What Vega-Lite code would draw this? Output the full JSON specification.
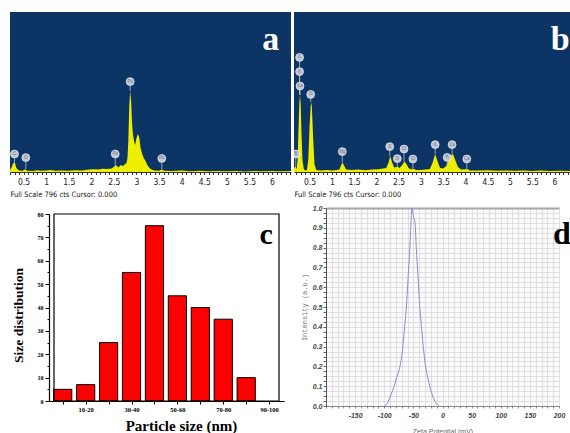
{
  "$schema": "https://vega.github.io/schema/vega-lite/v6.json",
  "background": "white",
  "padding": {"left": 9, "top": 12, "right": 0, "bottom": 0},
  "config": {"view": {"stroke": null}},
  "datasets": {
    "specA": [{"e":0.2,"c":10},{"e":0.24,"c":25},{"e":0.27,"c":45},{"e":0.31,"c":45},{"e":0.34,"c":20},{"e":0.4,"c":8},{"e":0.48,"c":6},{"e":0.53,"c":14},{"e":0.58,"c":6},{"e":0.7,"c":5},{"e":0.8,"c":9},{"e":0.9,"c":6},{"e":1.0,"c":8},{"e":1.1,"c":10},{"e":1.2,"c":6},{"e":1.35,"c":8},{"e":1.5,"c":6},{"e":1.65,"c":9},{"e":1.8,"c":7},{"e":1.95,"c":12},{"e":2.05,"c":14},{"e":2.15,"c":12},{"e":2.25,"c":16},{"e":2.35,"c":15},{"e":2.45,"c":18},{"e":2.52,"c":30},{"e":2.56,"c":32},{"e":2.6,"c":22},{"e":2.65,"c":35},{"e":2.7,"c":30},{"e":2.75,"c":40},{"e":2.78,"c":45},{"e":2.8,"c":70},{"e":2.82,"c":160},{"e":2.84,"c":330},{"e":2.86,"c":405},{"e":2.88,"c":360},{"e":2.9,"c":250},{"e":2.92,"c":190},{"e":2.95,"c":150},{"e":2.97,"c":135},{"e":3.0,"c":170},{"e":3.03,"c":190},{"e":3.06,"c":175},{"e":3.09,"c":120},{"e":3.12,"c":95},{"e":3.16,"c":70},{"e":3.2,"c":55},{"e":3.24,"c":35},{"e":3.28,"c":22},{"e":3.33,"c":12},{"e":3.4,"c":8},{"e":3.5,"c":6},{"e":3.56,"c":12},{"e":3.62,"c":6},{"e":3.8,"c":5},{"e":4.0,"c":7},{"e":4.2,"c":4},{"e":4.4,"c":6},{"e":4.6,"c":4},{"e":4.8,"c":5},{"e":5.0,"c":4},{"e":5.2,"c":5},{"e":5.4,"c":3},{"e":5.6,"c":5},{"e":5.8,"c":4},{"e":6.0,"c":5},{"e":6.2,"c":4},{"e":6.42,"c":5}],
    "mkA": [{"e":0.3,"y":90,"y2":45,"el":"C"},{"e":0.55,"y":72,"y2":14,"el":"O"},{"e":2.53,"y":90,"y2":30,"el":"Pd"},{"e":2.86,"y":452,"y2":405,"el":"Pd"},{"e":3.56,"y":68,"y2":12,"el":"Pd"}],
    "specB": [{"e":0.15,"c":20},{"e":0.18,"c":30},{"e":0.21,"c":15},{"e":0.23,"c":60},{"e":0.25,"c":200},{"e":0.27,"c":350},{"e":0.285,"c":385},{"e":0.3,"c":340},{"e":0.32,"c":180},{"e":0.34,"c":60},{"e":0.37,"c":15},{"e":0.4,"c":8},{"e":0.44,"c":10},{"e":0.47,"c":60},{"e":0.5,"c":230},{"e":0.53,"c":350},{"e":0.55,"c":330},{"e":0.58,"c":170},{"e":0.61,"c":40},{"e":0.65,"c":10},{"e":0.75,"c":8},{"e":0.9,"c":10},{"e":1.0,"c":7},{"e":1.1,"c":10},{"e":1.17,"c":12},{"e":1.21,"c":35},{"e":1.24,"c":47},{"e":1.28,"c":30},{"e":1.32,"c":12},{"e":1.45,"c":10},{"e":1.6,"c":12},{"e":1.75,"c":9},{"e":1.9,"c":12},{"e":2.05,"c":14},{"e":2.15,"c":18},{"e":2.22,"c":20},{"e":2.27,"c":45},{"e":2.31,"c":80},{"e":2.35,"c":50},{"e":2.4,"c":22},{"e":2.45,"c":25},{"e":2.48,"c":28},{"e":2.52,"c":20},{"e":2.58,"c":35},{"e":2.63,"c":52},{"e":2.68,"c":38},{"e":2.73,"c":18},{"e":2.8,"c":14},{"e":2.84,"c":15},{"e":2.9,"c":10},{"e":3.0,"c":10},{"e":3.1,"c":12},{"e":3.2,"c":15},{"e":3.26,"c":45},{"e":3.32,"c":90},{"e":3.37,"c":55},{"e":3.43,"c":20},{"e":3.5,"c":18},{"e":3.57,"c":30},{"e":3.62,"c":60},{"e":3.67,"c":82},{"e":3.72,"c":90},{"e":3.77,"c":60},{"e":3.83,"c":25},{"e":3.9,"c":12},{"e":4.0,"c":14},{"e":4.04,"c":15},{"e":4.1,"c":8},{"e":4.3,"c":7},{"e":4.5,"c":9},{"e":4.7,"c":6},{"e":4.9,"c":8},{"e":5.1,"c":6},{"e":5.3,"c":7},{"e":5.5,"c":5},{"e":5.7,"c":7},{"e":5.9,"c":5},{"e":6.1,"c":6},{"e":6.37,"c":5}],
    "mkB": [{"e":0.19,"y":90,"y2":30,"el":"B"},{"e":0.275,"y":573,"y2":385,"el":"C"},{"e":0.275,"y":502,"y2":385,"el":"K"},{"e":0.285,"y":430,"y2":385,"el":"Ca"},{"e":0.525,"y":388,"y2":350,"el":"O"},{"e":1.235,"y":102,"y2":47,"el":"Mg"},{"e":2.3,"y":127,"y2":80,"el":"S"},{"e":2.47,"y":67,"y2":28,"el":"S"},{"e":2.62,"y":115,"y2":52,"el":"Cl"},{"e":2.82,"y":65,"y2":15,"el":"Cl"},{"e":3.32,"y":137,"y2":90,"el":"K"},{"e":3.59,"y":73,"y2":30,"el":"K"},{"e":3.7,"y":137,"y2":90,"el":"Ca"},{"e":4.03,"y":65,"y2":15,"el":"Ca"}],
    "hist": [{"size":"0-10","mid":5,"count":5},{"size":"10-20","mid":15,"count":7},{"size":"20-30","mid":25,"count":25},{"size":"30-40","mid":35,"count":55},{"size":"40-50","mid":45,"count":75},{"size":"50-60","mid":55,"count":45},{"size":"60-70","mid":65,"count":40},{"size":"70-80","mid":75,"count":35},{"size":"80-90","mid":85,"count":10}],
    "frameC": [{"a":1.2,"b":99.3,"c0":0,"c1":80}],
    "zeta": [{"z":-100,"i":0},{"z":-97,"i":0.005},{"z":-92,"i":0.03},{"z":-88,"i":0.06},{"z":-83,"i":0.1},{"z":-78,"i":0.15},{"z":-73,"i":0.2},{"z":-68,"i":0.3},{"z":-65,"i":0.4},{"z":-62,"i":0.5},{"z":-59,"i":0.65},{"z":-56,"i":0.8},{"z":-54,"i":0.93},{"z":-53,"i":1.0},{"z":-50,"i":0.96},{"z":-47,"i":0.92},{"z":-45,"i":0.8},{"z":-42,"i":0.65},{"z":-39,"i":0.5},{"z":-36,"i":0.4},{"z":-33,"i":0.3},{"z":-29,"i":0.2},{"z":-25,"i":0.14},{"z":-22,"i":0.1},{"z":-18,"i":0.06},{"z":-14,"i":0.03},{"z":-10,"i":0.01},{"z":-6,"i":0}]
  },
  "spacing": 6,
  "vconcat": [
    {
      "spacing": 3,
      "hconcat": [
        {
          "width": 281, "height": 160,
          "view": {"fill": "#0c3566", "stroke": null},
          "layer": [
            {
              "data": {"name": "specA"},
              "mark": {"type": "area", "color": "#eeee00", "clip": true},
              "encoding": {
                "x": {"field": "e", "type": "quantitative", "scale": {"domain": [0.2, 6.42], "nice": false, "zero": false},
                  "axis": {"tickCount": 62, "labelExpr": "abs(datum.value*2 - round(datum.value*2)) < 0.01 ? format(datum.value, '~g') : ''", "labelOverlap": false, "labelFlush": false, "grid": false,
                    "labelFont": "Liberation Sans Narrow, DejaVu Sans Condensed, sans-serif", "labelFontSize": 8.5, "labelColor": "#222", "labelPadding": 3,
                    "tickSize": 2.5, "tickColor": "#333", "domainColor": "#333",
                    "title": "Full Scale 796 cts Cursor: 0.000", "titleAnchor": "start", "titleFont": "Liberation Sans Narrow, DejaVu Sans Condensed, sans-serif", "titleFontSize": 7.5, "titleFontWeight": "normal", "titleColor": "#222", "titlePadding": 4}},
                "y": {"field": "c", "type": "quantitative", "scale": {"domain": [0, 800], "nice": false}, "axis": null}
              }
            },
            {
              "data": {"name": "mkA"},
              "mark": {"type": "rule", "color": "#b8c0d0", "strokeWidth": 0.8, "clip": true},
              "encoding": {"x": {"field": "e", "type": "quantitative"}, "y": {"field": "y", "type": "quantitative", "axis": null}, "y2": {"field": "y2"}}
            },
            {
              "data": {"name": "mkA"},
              "mark": {"type": "point", "filled": true, "size": 62, "color": "#bfc5d3", "stroke": "#eef0f5", "strokeWidth": 0.7, "opacity": 1, "clip": true},
              "encoding": {"x": {"field": "e", "type": "quantitative"}, "y": {"field": "y", "type": "quantitative", "axis": null}}
            },
            {
              "data": {"name": "mkA"},
              "mark": {"type": "text", "fontSize": 4.5, "color": "#6f7788", "baseline": "middle", "clip": true},
              "encoding": {"x": {"field": "e", "type": "quantitative"}, "y": {"field": "y", "type": "quantitative", "axis": null}, "text": {"field": "el"}}
            },
            {
              "data": {"values": [{"e": 5.97, "y": 610, "t": "a"}]},
              "mark": {"type": "text", "font": "Liberation Serif", "fontWeight": "bold", "fontSize": 34, "color": "#ffffff", "baseline": "alphabetic"},
              "encoding": {"x": {"field": "e", "type": "quantitative"}, "y": {"field": "y", "type": "quantitative", "axis": null}, "text": {"field": "t"}}
            }
          ]
        },
        {
          "width": 277, "height": 160,
          "view": {"fill": "#0c3566", "stroke": null},
          "layer": [
            {
              "data": {"name": "specB"},
              "mark": {"type": "area", "color": "#eeee00", "clip": true},
              "encoding": {
                "x": {"field": "e", "type": "quantitative", "scale": {"domain": [0.15, 6.37], "nice": false, "zero": false},
                  "axis": {"tickCount": 62, "labelExpr": "abs(datum.value*2 - round(datum.value*2)) < 0.01 ? format(datum.value, '~g') : ''", "labelOverlap": false, "labelFlush": false, "grid": false,
                    "labelFont": "Liberation Sans Narrow, DejaVu Sans Condensed, sans-serif", "labelFontSize": 8.5, "labelColor": "#222", "labelPadding": 3,
                    "tickSize": 2.5, "tickColor": "#333", "domainColor": "#333",
                    "title": "Full Scale 796 cts Cursor: 0.000", "titleAnchor": "start", "titleFont": "Liberation Sans Narrow, DejaVu Sans Condensed, sans-serif", "titleFontSize": 7.5, "titleFontWeight": "normal", "titleColor": "#222", "titlePadding": 4}},
                "y": {"field": "c", "type": "quantitative", "scale": {"domain": [0, 800], "nice": false}, "axis": null}
              }
            },
            {
              "data": {"name": "mkB"},
              "mark": {"type": "rule", "color": "#b8c0d0", "strokeWidth": 0.8, "clip": true},
              "encoding": {"x": {"field": "e", "type": "quantitative"}, "y": {"field": "y", "type": "quantitative", "axis": null}, "y2": {"field": "y2"}}
            },
            {
              "data": {"name": "mkB"},
              "mark": {"type": "point", "filled": true, "size": 62, "color": "#bfc5d3", "stroke": "#eef0f5", "strokeWidth": 0.7, "opacity": 1, "clip": true},
              "encoding": {"x": {"field": "e", "type": "quantitative"}, "y": {"field": "y", "type": "quantitative", "axis": null}}
            },
            {
              "data": {"name": "mkB"},
              "mark": {"type": "text", "fontSize": 4.5, "color": "#6f7788", "baseline": "middle", "clip": true},
              "encoding": {"x": {"field": "e", "type": "quantitative"}, "y": {"field": "y", "type": "quantitative", "axis": null}, "text": {"field": "el"}}
            },
            {
              "data": {"values": [{"e": 6.13, "y": 610, "t": "b"}]},
              "mark": {"type": "text", "font": "Liberation Serif", "fontWeight": "bold", "fontSize": 34, "color": "#ffffff", "baseline": "alphabetic"},
              "encoding": {"x": {"field": "e", "type": "quantitative"}, "y": {"field": "y", "type": "quantitative", "axis": null}, "text": {"field": "t"}}
            }
          ]
        }
      ]
    },
    {
      "spacing": 16,
      "hconcat": [
        {
          "width": 274, "height": 193,
          "layer": [
            {
              "data": {"name": "hist"},
              "mark": {"type": "bar", "width": 18.2, "color": "#ff0000", "stroke": "#000000", "strokeWidth": 1},
              "encoding": {
                "x": {"field": "mid", "type": "quantitative", "scale": {"domain": [1.2, 99.3], "range": [39, 274], "nice": false, "zero": false},
                  "axis": {"orient": "bottom", "values": [5,15,25,35,45,55,65,75,85,95], "labelExpr": "indexof([15,35,55,75,95], datum.value) >= 0 ? (datum.value - 5) + '-' + (datum.value + 5) : ''", "labelOverlap": false, "labelFlush": false, "grid": false,
                    "labelFont": "Liberation Serif", "labelFontWeight": "bold", "labelFontSize": 6.5, "labelColor": "#000", "labelPadding": 2,
                    "tickColor": "#000", "tickSize": 3, "domainColor": "#000", "domainWidth": 1.2,
                    "title": "Particle size (nm)", "titleFont": "Liberation Serif", "titleFontWeight": "bold", "titleFontSize": 15, "titleColor": "#000", "titlePadding": 6, "titleX": 171}},
                "y": {"field": "count", "type": "quantitative", "scale": {"domain": [0, 80], "range": [193, 6], "nice": false},
                  "axis": {"orient": "left", "offset": -39, "values": [0,5,10,15,20,25,30,35,40,45,50,55,60,65,70,75,80], "labelExpr": "datum.value % 10 == 0 ? datum.label : ''", "labelOverlap": false,
                    "grid": false, "labelFont": "Liberation Serif", "labelFontWeight": "bold", "labelFontSize": 6, "labelColor": "#000", "labelPadding": 2,
                    "tickColor": "#000", "tickSize": {"condition": {"test": "datum.value % 10 == 0", "value": 4}, "value": 2}, "domainColor": "#000", "domainWidth": 1.2,
                    "title": "Size distribution", "titleFont": "Liberation Serif", "titleFontWeight": "bold", "titleFontSize": 13.5, "titleColor": "#000", "titlePadding": 12, "titleY": 107}}
              }
            },
            {
              "data": {"name": "frameC"},
              "mark": {"type": "rect", "color": "#000000", "fillOpacity": 0, "stroke": "#000000", "strokeWidth": 1.2},
              "encoding": {
                "x": {"field": "a", "type": "quantitative", "scale": {"domain": [1.2, 99.3], "range": [39, 274], "nice": false, "zero": false},
                  "axis": {"orient": "bottom", "values": [5,15,25,35,45,55,65,75,85,95], "labelExpr": "indexof([15,35,55,75,95], datum.value) >= 0 ? (datum.value - 5) + '-' + (datum.value + 5) : ''", "labelOverlap": false, "labelFlush": false, "grid": false,
                    "labelFont": "Liberation Serif", "labelFontWeight": "bold", "labelFontSize": 6.5, "labelColor": "#000", "labelPadding": 2,
                    "tickColor": "#000", "tickSize": 3, "domainColor": "#000", "domainWidth": 1.2,
                    "title": "Particle size (nm)", "titleFont": "Liberation Serif", "titleFontWeight": "bold", "titleFontSize": 15, "titleColor": "#000", "titlePadding": 6, "titleX": 171}},
                "x2": {"field": "b"},
                "y": {"field": "c0", "type": "quantitative", "scale": {"domain": [0, 80], "range": [193, 6], "nice": false},
                  "axis": {"orient": "left", "offset": -39, "values": [0,5,10,15,20,25,30,35,40,45,50,55,60,65,70,75,80], "labelExpr": "datum.value % 10 == 0 ? datum.label : ''", "labelOverlap": false,
                    "grid": false, "labelFont": "Liberation Serif", "labelFontWeight": "bold", "labelFontSize": 6, "labelColor": "#000", "labelPadding": 2,
                    "tickColor": "#000", "tickSize": {"condition": {"test": "datum.value % 10 == 0", "value": 4}, "value": 2}, "domainColor": "#000", "domainWidth": 1.2,
                    "title": "Size distribution", "titleFont": "Liberation Serif", "titleFontWeight": "bold", "titleFontSize": 13.5, "titleColor": "#000", "titlePadding": 12, "titleY": 107}},
                "y2": {"field": "c1"}
              }
            },
            {
              "data": {"values": [{"mid": 95, "count": 67, "t": "c"}]},
              "mark": {"type": "text", "font": "Liberation Serif", "fontWeight": "bold", "fontSize": 30, "color": "#000", "baseline": "alphabetic", "dx": -3},
              "encoding": {
                "x": {"field": "mid", "type": "quantitative", "scale": {"domain": [1.2, 99.3], "range": [39, 274], "nice": false, "zero": false},
                  "axis": {"orient": "bottom", "values": [5,15,25,35,45,55,65,75,85,95], "labelExpr": "indexof([15,35,55,75,95], datum.value) >= 0 ? (datum.value - 5) + '-' + (datum.value + 5) : ''", "labelOverlap": false, "labelFlush": false, "grid": false,
                    "labelFont": "Liberation Serif", "labelFontWeight": "bold", "labelFontSize": 6.5, "labelColor": "#000", "labelPadding": 2,
                    "tickColor": "#000", "tickSize": 3, "domainColor": "#000", "domainWidth": 1.2,
                    "title": "Particle size (nm)", "titleFont": "Liberation Serif", "titleFontWeight": "bold", "titleFontSize": 15, "titleColor": "#000", "titlePadding": 6, "titleX": 171}},
                "y": {"field": "count", "type": "quantitative", "scale": {"domain": [0, 80], "range": [193, 6], "nice": false},
                  "axis": {"orient": "left", "offset": -39, "values": [0,5,10,15,20,25,30,35,40,45,50,55,60,65,70,75,80], "labelExpr": "datum.value % 10 == 0 ? datum.label : ''", "labelOverlap": false,
                    "grid": false, "labelFont": "Liberation Serif", "labelFontWeight": "bold", "labelFontSize": 6, "labelColor": "#000", "labelPadding": 2,
                    "tickColor": "#000", "tickSize": {"condition": {"test": "datum.value % 10 == 0", "value": 4}, "value": 2}, "domainColor": "#000", "domainWidth": 1.2,
                    "title": "Size distribution", "titleFont": "Liberation Serif", "titleFontWeight": "bold", "titleFontSize": 13.5, "titleColor": "#000", "titlePadding": 12, "titleY": 107}},
                "text": {"field": "t"}
              }
            }
          ]
        },
        {
          "width": 233, "height": 198,
          "view": {"fill": "#fbfbfb", "stroke": null},
          "layer": [
            {
              "data": {"name": "zeta"},
              "mark": {"type": "line", "color": "#8a8ccc", "strokeWidth": 1, "interpolate": "monotone"},
              "encoding": {
                "x": {"field": "z", "type": "quantitative", "scale": {"domain": [-200, 200], "nice": false, "zero": false},
                  "axis": {"tickCount": 40, "labelExpr": "datum.value % 50 == 0 && datum.value > -200 ? '' + datum.value : ''", "labelOverlap": false, "labelFlush": false,
                    "grid": true, "gridColor": "#d8d8d8", "gridWidth": 0.8, "tickSize": 2, "tickColor": "#888", "domainColor": "#888",
                    "labelFont": "Liberation Sans", "labelFontStyle": "italic", "labelFontWeight": "bold", "labelFontSize": 7, "labelColor": "#444", "labelPadding": 3,
                    "title": "Zeta Potential (mV)", "titleFont": "Liberation Sans", "titleFontSize": 7, "titleFontWeight": "normal", "titleColor": "#666", "titlePadding": 9}},
                "y": {"field": "i", "type": "quantitative", "scale": {"domain": [0, 1], "nice": false},
                  "axis": {"values": [0,0.025,0.05,0.075,0.1,0.125,0.15,0.175,0.2,0.225,0.25,0.275,0.3,0.325,0.35,0.375,0.4,0.425,0.45,0.475,0.5,0.525,0.55,0.575,0.6,0.625,0.65,0.675,0.7,0.725,0.75,0.775,0.8,0.825,0.85,0.875,0.9,0.925,0.95,0.975,1.0],
                    "labelExpr": "abs(datum.value*10 - round(datum.value*10)) < 0.001 ? format(datum.value, '.1f') : ''", "labelOverlap": false, "labelFlush": false,
                    "grid": true, "gridColor": {"condition": {"test": "datum.value == 1", "value": "#a6a6a6"}, "value": "#d8d8d8"}, "gridWidth": {"condition": {"test": "datum.value == 1", "value": 2}, "value": 0.8},
                    "tickSize": 3, "tickColor": "#666", "domainColor": "#555",
                    "labelFont": "Liberation Sans", "labelFontStyle": "italic", "labelFontWeight": "bold", "labelFontSize": 7, "labelColor": "#444", "labelPadding": 1,
                    "title": "Intensity (a.u.)", "titleFont": "Liberation Mono", "titleFontSize": 7, "titleFontWeight": "normal", "titleColor": "#777", "titlePadding": 5}}
              }
            },
            {
              "data": {"values": [{"z": 205, "i": 0.818, "t": "d"}]},
              "mark": {"type": "text", "font": "Liberation Serif", "fontWeight": "bold", "fontSize": 32, "color": "#000", "baseline": "alphabetic"},
              "encoding": {
                "x": {"field": "z", "type": "quantitative", "scale": {"domain": [-200, 200], "nice": false, "zero": false},
                  "axis": {"tickCount": 40, "labelExpr": "datum.value % 50 == 0 && datum.value > -200 ? '' + datum.value : ''", "labelOverlap": false, "labelFlush": false,
                    "grid": true, "gridColor": "#d8d8d8", "gridWidth": 0.8, "tickSize": 2, "tickColor": "#888", "domainColor": "#888",
                    "labelFont": "Liberation Sans", "labelFontStyle": "italic", "labelFontWeight": "bold", "labelFontSize": 7, "labelColor": "#444", "labelPadding": 3,
                    "title": "Zeta Potential (mV)", "titleFont": "Liberation Sans", "titleFontSize": 7, "titleFontWeight": "normal", "titleColor": "#666", "titlePadding": 9}},
                "y": {"field": "i", "type": "quantitative", "scale": {"domain": [0, 1], "nice": false},
                  "axis": {"values": [0,0.025,0.05,0.075,0.1,0.125,0.15,0.175,0.2,0.225,0.25,0.275,0.3,0.325,0.35,0.375,0.4,0.425,0.45,0.475,0.5,0.525,0.55,0.575,0.6,0.625,0.65,0.675,0.7,0.725,0.75,0.775,0.8,0.825,0.85,0.875,0.9,0.925,0.95,0.975,1.0],
                    "labelExpr": "abs(datum.value*10 - round(datum.value*10)) < 0.001 ? format(datum.value, '.1f') : ''", "labelOverlap": false, "labelFlush": false,
                    "grid": true, "gridColor": {"condition": {"test": "datum.value == 1", "value": "#a6a6a6"}, "value": "#d8d8d8"}, "gridWidth": {"condition": {"test": "datum.value == 1", "value": 2}, "value": 0.8},
                    "tickSize": 3, "tickColor": "#666", "domainColor": "#555",
                    "labelFont": "Liberation Sans", "labelFontStyle": "italic", "labelFontWeight": "bold", "labelFontSize": 7, "labelColor": "#444", "labelPadding": 1,
                    "title": "Intensity (a.u.)", "titleFont": "Liberation Mono", "titleFontSize": 7, "titleFontWeight": "normal", "titleColor": "#777", "titlePadding": 5}},
                "text": {"field": "t"}
              }
            }
          ]
        }
      ]
    }
  ]
}
